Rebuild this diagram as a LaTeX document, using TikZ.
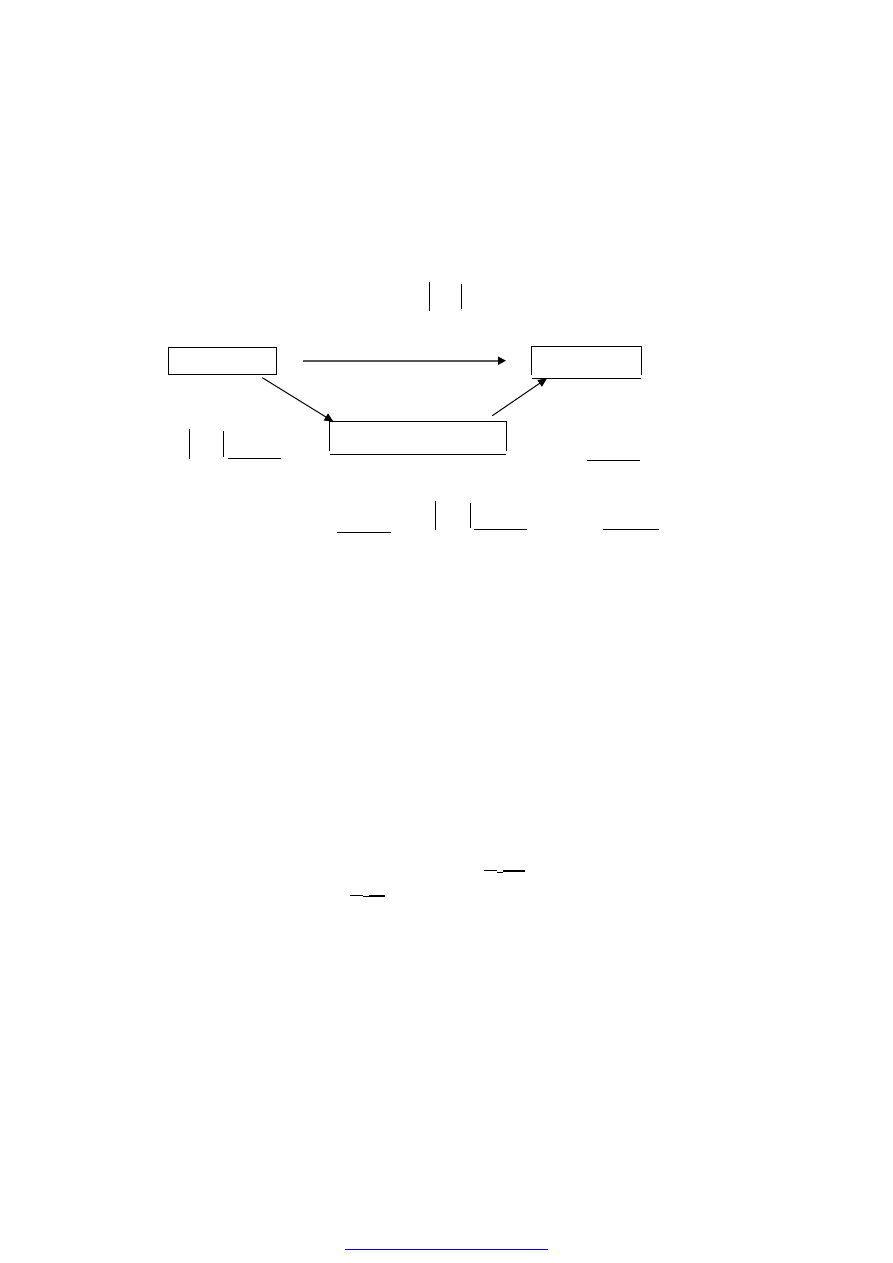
\documentclass[tikz,border=0pt]{standalone}
\usetikzlibrary{arrows.meta}
\definecolor{rulegray}{RGB}{85,85,85}
\definecolor{footblue}{RGB}{0,0,205}
\begin{document}
\begin{tikzpicture}[x=1pt,y=-1pt,
  box/.style={draw=black,line width=1pt,inner sep=0pt,minimum width=#1},
  openbox/.style={line width=1pt,inner sep=0pt,minimum width=#1},
  thin/.style={line width=1pt,black},
  thick/.style={line width=2pt,black},
  arr/.style={line width=1pt,-{Triangle[length=9pt,width=8pt]}},
  garr/.style={line width=1.6pt,rulegray,-{Triangle[length=8pt,width=8pt,color=black,fill=black]}}]
\useasboundingbox[fill=white] (0,0) rectangle (893,1263);
% boxes
\node[box=108.4pt,minimum height=27pt] (a) at (222.5,360.8) {};
\node[openbox=108.4pt,minimum height=27pt] (b) at (586.5,360.8) {};
\node[openbox=175.4pt,minimum height=27.7pt] (c) at (418,436.2) {};
\draw[thin] (b.south west) -- (b.north west) -- (b.north east) -- (b.south east);
\draw[thin] (c.south west) -- (c.north west) -- (c.north east) -- (c.south east);
\draw[thin] ([yshift=-4pt]b.south west) -- ([yshift=-4pt]b.south east);
\draw[thin] ([yshift=-4pt]c.south west) -- ([yshift=-4pt]c.south east);
% connector ends
\coordinate (h1) at (302.7,360.7);
\coordinate (h2) at (506,360.7);
\coordinate (s1) at (262.3,377.7);
\coordinate (e1) at (333.5,421.7);
\coordinate (s2) at (492.3,415.7);
\coordinate (e2) at (547,378.3);
\draw[garr] (h1) -- (h2);
\draw[arr] (s1) -- (e1);
\draw[arr] (s2) -- (e2);
% fragments of formulas
\draw[thin] (429.3,282.3) -- (429.3,310.7);
\draw[thin] (461.7,284) -- (461.7,309);
\draw[thin] (189.3,429) -- (189.3,458.7);
\draw[thin] (223.7,431.3) -- (223.7,456.7);
\draw[thin] (227.7,458.3) -- (280.7,458.3);
\draw[thin] (586.7,460.3) -- (640,460.3);
\draw[thin] (337.3,532.3) -- (390.7,532.3);
\draw[thin] (435.3,500.7) -- (435.3,530.3);
\draw[thin] (470.7,503.3) -- (470.7,528.3);
\draw[thin] (474,529.7) -- (526.7,529.7);
\draw[thin] (602.7,529.7) -- (659,529.7);
% small fraction marks
\draw[thin] (484,870.3) -- (496.7,870.3);
\draw[thin] (496.7,872.3) -- (502.7,872.3);
\draw[thick] (503.3,871) -- (525,871);
\draw[thin] (350,895) -- (362.7,895);
\draw[thin] (362.7,896.7) -- (368.7,896.7);
\draw[thick] (369.3,895.7) -- (385,895.7);
% footnote rule
\draw[footblue,line width=1pt] (345,1249.3) -- (548,1249.3);
\end{tikzpicture}
\end{document}
